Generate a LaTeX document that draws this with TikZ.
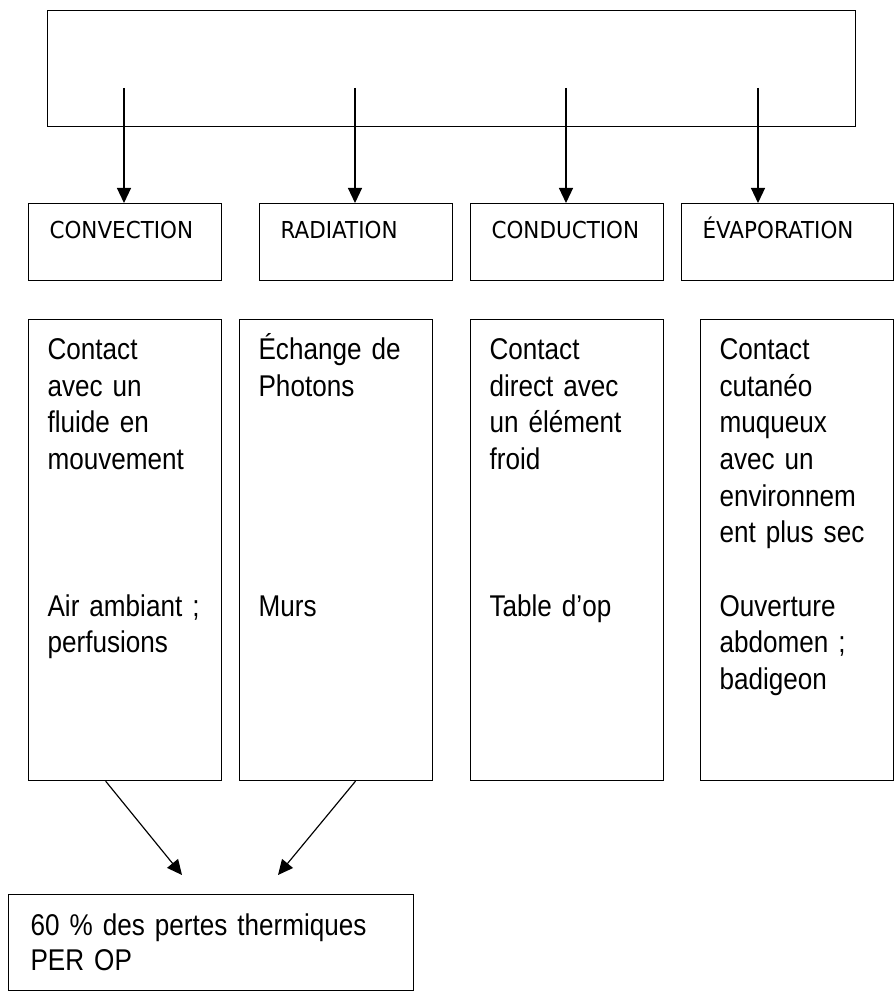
\documentclass[tikz,border=0pt]{standalone}
\usepackage{fontspec}
\setmainfont[FakeStretch=0.87,WordSpace=0.85]{Liberation Sans}
\newfontfamily\labelfont[FakeStretch=0.92,WordSpace=0.9]{DejaVu Sans}
\usepackage{tikz}
\usetikzlibrary{arrows.meta,calc}
\tikzset{>={Triangle[length=4.5mm,width=4.2mm]}}
\tikzset{every path/.style={line width=0.35mm}}
\tikzset{heatbox/.style={rectangle,draw=black,anchor=north west,minimum width=242.4mm,minimum height=34.8mm,inner sep=0mm}}
\tikzset{modebox/.style={rectangle,draw=black,anchor=north west,align=left,font=\labelfont\fontsize{7mm}{8.4mm}\selectfont,text width=45.3mm,text height=10.5mm,text depth=12.6mm,inner xsep=6.3mm,inner ysep=0mm}}
\tikzset{descbox/.style={rectangle,draw=black,anchor=north west,align=left,font=\fontsize{9mm}{11mm}\selectfont,text width=46.5mm,text height=12mm,text depth=126.3mm,inner xsep=5.7mm,inner ysep=0mm}}
\tikzset{totalbox/.style={rectangle,draw=black,anchor=north west,align=left,font=\fontsize{9mm}{10.5mm}\selectfont,text width=108.3mm,text height=12.3mm,text depth=16.5mm,inner xsep=6.6mm,inner ysep=0mm}}

\begin{document}
\begin{tikzpicture}[x=0.3mm,y=-0.3mm]
    \useasboundingbox (0,0) rectangle (894,991);

    \node[heatbox] (heat) at (47,10) {};

    \node[modebox] (conv) at (28,203)  {CONVECTION};
    \node[modebox] (rad)  at (259,203) {RADIATION};
    \node[modebox] (cond) at (470,203) {CONDUCTION};
    \node[modebox,text width=51mm] (evap) at (681,203) {ÉVAPORATION};

    \node[descbox] (dconv) at (28,319)  {Contact\\avec un\\fluide en\\mouvement\\[33mm]Air ambiant ;\\perfusions};
    \node[descbox] (drad)  at (239,319) {Échange de\\Photons\\[55mm]Murs};
    \node[descbox] (dcond) at (470,319) {Contact\\direct avec\\un élément\\froid\\[33mm]Table d’op};
    \node[descbox] (devap) at (700,319) {Contact\\cutanéo\\muqueux\\avec un\\environnem\\ent plus sec\\[11mm]Ouverture\\abdomen ;\\badigeon};

    \node[totalbox] (total) at (8,894) {60 \% des pertes thermiques\\PER OP};

    \coordinate (s1) at (124,88);
    \coordinate (s2) at (355,88);
    \coordinate (s3) at (566,88);
    \coordinate (s4) at (758,88);
    \coordinate (t1) at (182,875);
    \coordinate (t2) at (278,875);

    \draw[->] (s1) -- (s1 |- conv.north);
    \draw[->] (s2) -- (s2 |- rad.north);
    \draw[->] (s3) -- (s3 |- cond.north);
    \draw[->] (s4) -- (s4 |- evap.north);

    \draw[->] ($(dconv.south west)!0.4!(dconv.south east)$) -- (t1);
    \draw[->] ($(drad.south west)!0.6!(drad.south east)$) -- (t2);
\end{tikzpicture}
\end{document}
